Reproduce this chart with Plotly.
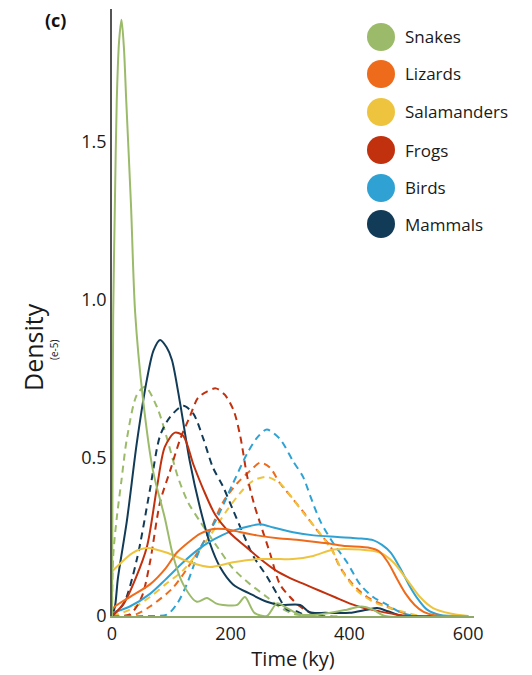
import plotly.graph_objects as go

# ---------------- data (density, units of 1e-5; time in ky) ----------------
species = ["Snakes", "Lizards", "Salamanders", "Frogs", "Birds", "Mammals"]
colors = ["#9CBB6A", "#EE6B1B", "#EEC43F", "#C1310E", "#2FA2D3", "#123B57"]

snakes_solid_x = [0, 1, 2, 5, 8, 12, 16, 20, 24, 32, 39, 52, 69, 89, 103, 120, 143, 160, 175, 187, 211, 224, 240, 261, 278, 295, 317, 350, 396, 420, 440, 460, 600]
snakes_solid_y = [0, 0.5, 0.95, 1.32, 1.63, 1.82, 1.886, 1.80, 1.63, 1.30, 0.96, 0.69, 0.46, 0.31, 0.19, 0.10, 0.045, 0.057, 0.04, 0.035, 0.035, 0.06, 0.01, 0.0, 0.04, 0.025, 0.005, 0.005, 0.02, 0.03, 0.02, 0, 0]
snakes_dash_x = [0, 2, 8, 16, 25, 42, 56, 76, 93, 111, 128, 148, 177, 204, 233, 261, 285, 310, 600]
snakes_dash_y = [0, 0.19, 0.31, 0.43, 0.56, 0.70, 0.725, 0.66, 0.56, 0.44, 0.36, 0.30, 0.22, 0.15, 0.10, 0.06, 0.025, 0.005, 0]

lizards_solid_x = [0, 5, 30, 64, 90, 109, 130, 148, 170, 190, 204, 244, 283, 305, 340, 362, 389, 435, 450, 465, 481, 495, 510, 525, 545, 600]
lizards_solid_y = [0.02, 0.03, 0.06, 0.10, 0.15, 0.20, 0.235, 0.26, 0.275, 0.275, 0.27, 0.255, 0.245, 0.242, 0.235, 0.23, 0.222, 0.215, 0.205, 0.17, 0.115, 0.07, 0.035, 0.013, 0.002, 0]
lizards_dash_x = [0, 40, 64, 103, 137, 165, 187, 211, 233, 250, 266, 283, 305, 322, 346, 368, 384, 406, 430, 457, 486, 510, 600]
lizards_dash_y = [0, 0.005, 0.03, 0.09, 0.18, 0.27, 0.36, 0.42, 0.46, 0.485, 0.47, 0.42, 0.37, 0.33, 0.27, 0.22, 0.155, 0.10, 0.06, 0.035, 0.013, 0, 0]

salam_solid_x = [0, 5, 35, 59, 93, 131, 165, 204, 244, 283, 305, 339, 373, 418, 452, 474, 497, 519, 541, 570, 600]
salam_solid_y = [0.14, 0.15, 0.20, 0.215, 0.20, 0.17, 0.155, 0.17, 0.18, 0.18, 0.18, 0.19, 0.21, 0.21, 0.20, 0.17, 0.115, 0.06, 0.025, 0.008, 0]
salam_dash_x = [0, 30, 64, 90, 120, 160, 194, 221, 240, 261, 283, 305, 325, 351, 373, 390, 413, 440, 469, 497, 520, 600]
salam_dash_y = [0, 0.02, 0.06, 0.10, 0.145, 0.24, 0.335, 0.40, 0.43, 0.44, 0.42, 0.37, 0.32, 0.26, 0.20, 0.135, 0.08, 0.045, 0.025, 0.01, 0, 0]

frogs_solid_x = [0, 20, 40, 59, 76, 89, 106, 120, 137, 154, 174, 200, 225, 250, 275, 300, 325, 350, 375, 400, 425, 450, 475, 500, 600]
frogs_solid_y = [0, 0.04, 0.12, 0.22, 0.41, 0.535, 0.58, 0.57, 0.48, 0.40, 0.32, 0.26, 0.22, 0.18, 0.145, 0.12, 0.10, 0.08, 0.06, 0.04, 0.025, 0.015, 0.006, 0, 0]
frogs_dash_x = [0, 30, 50, 64, 81, 98, 115, 131, 145, 160, 175, 190, 205, 216, 228, 240, 252, 266, 283, 300, 317, 335, 355, 600]
frogs_dash_y = [0, 0.005, 0.06, 0.17, 0.36, 0.46, 0.56, 0.63, 0.69, 0.71, 0.72, 0.70, 0.65, 0.57, 0.44, 0.35, 0.28, 0.20, 0.10, 0.06, 0.03, 0.01, 0, 0]

birds_solid_x = [0, 30, 64, 90, 120, 145, 165, 185, 204, 233, 250, 272, 305, 340, 380, 420, 440, 455, 470, 486, 500, 515, 531, 553, 600]
birds_solid_y = [0.01, 0.03, 0.07, 0.115, 0.17, 0.21, 0.235, 0.255, 0.27, 0.285, 0.29, 0.28, 0.265, 0.255, 0.25, 0.245, 0.24, 0.225, 0.20, 0.15, 0.10, 0.055, 0.02, 0.003, 0]
birds_dash_x = [0, 60, 93, 110, 126, 148, 177, 204, 228, 245, 261, 283, 305, 322, 334, 351, 373, 396, 418, 440, 464, 486, 510, 600]
birds_dash_y = [0, 0, 0.005, 0.04, 0.10, 0.21, 0.31, 0.42, 0.515, 0.565, 0.59, 0.56, 0.49, 0.44, 0.38, 0.30, 0.23, 0.17, 0.10, 0.06, 0.035, 0.012, 0, 0]

mammals_solid_x = [0, 5, 10, 25, 42, 59, 70, 81, 92, 101, 115, 131, 148, 165, 182, 204, 233, 261, 283, 317, 333, 360, 400, 430, 447, 465, 490, 600]
mammals_solid_y = [0, 0.03, 0.12, 0.30, 0.55, 0.75, 0.84, 0.873, 0.85, 0.81, 0.67, 0.49, 0.345, 0.23, 0.155, 0.10, 0.07, 0.045, 0.035, 0.035, 0.012, 0.01, 0.01, 0.02, 0.025, 0.015, 0, 0]
mammals_dash_x = [0, 20, 42, 64, 81, 98, 120, 137, 154, 170, 187, 204, 221, 238, 261, 278, 295, 310, 330, 600]
mammals_dash_y = [0, 0.04, 0.18, 0.40, 0.57, 0.63, 0.665, 0.64, 0.56, 0.47, 0.41, 0.335, 0.26, 0.19, 0.125, 0.07, 0.02, 0.015, 0, 0]

x_ticks = [0, 200, 400, 600]
y_ticks = [0, 0.5, 1.0, 1.5]
y_tick_text = ["0", "0.5", "1.0", "1.5"]

solid = {
    "Snakes": (snakes_solid_x, snakes_solid_y),
    "Lizards": (lizards_solid_x, lizards_solid_y),
    "Salamanders": (salam_solid_x, salam_solid_y),
    "Frogs": (frogs_solid_x, frogs_solid_y),
    "Birds": (birds_solid_x, birds_solid_y),
    "Mammals": (mammals_solid_x, mammals_solid_y),
}
dashed = {
    "Snakes": (snakes_dash_x, snakes_dash_y),
    "Lizards": (lizards_dash_x, lizards_dash_y),
    "Salamanders": (salam_dash_x, salam_dash_y),
    "Frogs": (frogs_dash_x, frogs_dash_y),
    "Birds": (birds_dash_x, birds_dash_y),
    "Mammals": (mammals_dash_x, mammals_dash_y),
}

FONT = "Open Sans"
fig = go.Figure()

for name, col in zip(species, colors):
    xs, ys = dashed[name]
    fig.add_trace(go.Scatter(x=xs, y=ys, mode="lines", name=name + " (dashed)",
                             line=dict(color=col, width=2, dash="7px,5px", shape="spline", smoothing=0.8),
                             showlegend=False, hoverinfo="skip"))
for name, col in zip(species[::-1], colors[::-1]):
    xs, ys = solid[name]
    fig.add_trace(go.Scatter(x=xs, y=ys, mode="lines", name=name,
                             line=dict(color=col, width=2, shape="spline", smoothing=0.8),
                             showlegend=False, hoverinfo="skip"))

# ---------------- layout geometry (screen pixels; page body has an 8px margin) ----------------
OFF = 8
W, H = 532, 675
L, R, T, B = 112 - OFF, 474 - OFF, 9 - OFF, 616 - OFF

def px2paper(px, py):
    px -= OFF
    py -= OFF
    return (px - L) / (R - L), (B - py) / (B - T)

leg_cx, leg_tx = 381, 403
leg_rows = [37, 74, 112, 150, 188, 224]
for name, col, ry in zip(species, colors, leg_rows):
    cx, cy = px2paper(leg_cx, ry)
    fig.add_shape(type="circle", xref="paper", yref="paper",
                  xsizemode="pixel", ysizemode="pixel", xanchor=cx, yanchor=cy,
                  x0=-14, x1=14, y0=-14, y1=14,
                  fillcolor=col, line=dict(color=col, width=0))
    tx, ty = px2paper(leg_tx, ry)
    fig.add_annotation(x=tx, y=ty, xref="paper", yref="paper", text=name,
                       showarrow=False, xanchor="left", yanchor="middle",
                       font=dict(family=FONT, size=17, color="#1a1a1a"))

ax, ay = px2paper(33, 347)
fig.add_annotation(x=ax, y=ay, xref="paper", yref="paper", text="Density", textangle=-90,
                   showarrow=False, xanchor="center", yanchor="middle",
                   font=dict(family=FONT, size=25, color="#1a1a1a"))
ex, ey = px2paper(54, 350)
fig.add_annotation(x=ex, y=ey, xref="paper", yref="paper", text="(e-5)", textangle=-90,
                   showarrow=False, xanchor="center", yanchor="middle",
                   font=dict(family=FONT, size=10, color="#1a1a1a"))
cx_, cy_ = px2paper(55, 20)
fig.add_annotation(x=cx_, y=cy_, xref="paper", yref="paper", text="<b>(c)</b>",
                   showarrow=False, xanchor="center", yanchor="middle",
                   font=dict(family=FONT, size=18, color="#111"))

fig.update_layout(
    width=W, height=H,
    margin=dict(l=L, r=W - R, t=T, b=H - B),
    paper_bgcolor="white", plot_bgcolor="white",
    font=dict(family=FONT, size=18, color="#1a1a1a"),
    xaxis=dict(range=[0, 610], tickvals=x_ticks, showgrid=False, zeroline=False,
               showline=True, linecolor="#8EA866", linewidth=2, ticks="",
               title=dict(text="Time (ky)", font=dict(family=FONT, size=20), standoff=8)),
    yaxis=dict(range=[0, 1.92], tickvals=y_ticks, ticktext=y_tick_text, showgrid=False,
               zeroline=False, showline=True, linecolor="#555555", linewidth=1.5, ticks=""),
)

fig.write_html("out.html")
